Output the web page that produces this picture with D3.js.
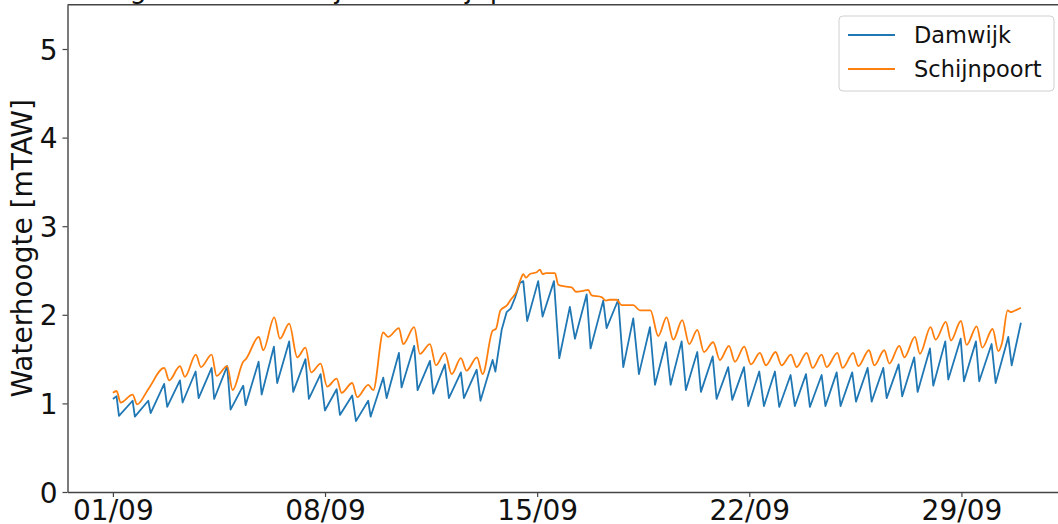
<!DOCTYPE html>
<html>
<head>
<meta charset="utf-8">
<script src="https://cdn.jsdelivr.net/npm/d3@7"></script>
<style>
  html, body { margin: 0; padding: 0; background: #fff; overflow: hidden; }
  svg { display: block; font-family: "DejaVu Sans", sans-serif; }
</style>
</head>
<body>
<svg id="chart" width="1058" height="524"></svg>
<script>
// Water levels (mTAW), September: hours since 01/09 00:00 and level at each turning point
const damwijkHours = [0, 2.9, 4.8, 15.6, 17.4, 28.0, 29.9, 40.6, 43.0, 53.1, 55.2, 65.5, 67.9, 78.2, 80.2,
  90.5, 93.2, 103.2, 105.1, 115.4, 117.8, 127.5, 130.1, 139.6, 142.8, 152.5, 155.2, 164.5, 167.9,
  177.2, 179.8, 189.5, 192.5, 202.2, 204.1, 214.1, 216.8, 226.5, 228.6, 238.6, 241.3, 251.1, 253.7,
  262.9, 266.1, 275.6, 278.0, 288.1, 291.1, 300.7, 302.9, 307.9, 311.8, 315.0, 318.4, 322.3, 325.0,
  328.1, 336.8, 340.3, 349.3, 353.5, 361.9, 365.9, 375.2, 378.3, 388.3, 391.0, 400.2, 404.2, 412.1,
  416.6, 425.3, 429.3, 438.0, 441.7, 450.4, 453.8, 462.8, 465.7, 475.0, 478.1, 487.3, 490.5, 499.8,
  503.2, 511.9, 515.6, 524.3, 527.7, 536.7, 540.1, 548.9, 552.0, 561.3, 564.3, 573.2, 576.3, 585.5,
  588.5, 597.7, 600.9, 610.1, 612.8, 622.3, 625.1, 634.6, 637.3, 647.1, 649.7, 659.2, 661.6, 671.4,
  674.0, 683.5, 686.1, 695.9, 699.1, 709.1, 711.8, 719.1];
const damwijkLevels = [1.05, 1.08, 0.86, 1.03, 0.85, 1.03, 0.89, 1.22, 0.96, 1.26, 1.01, 1.36, 1.06, 1.40, 1.05,
  1.42, 0.93, 1.20, 0.98, 1.47, 1.10, 1.64, 1.23, 1.70, 1.13, 1.50, 1.05, 1.33, 0.92,
  1.16, 0.87, 1.09, 0.80, 1.03, 0.85, 1.29, 1.06, 1.57, 1.18, 1.65, 1.15, 1.48, 1.11,
  1.44, 1.06, 1.35, 1.06, 1.38, 1.03, 1.49, 1.36, 1.83, 2.03, 2.07, 2.19, 2.36, 2.38,
  1.93, 2.38, 1.98, 2.38, 1.51, 2.09, 1.73, 2.23, 1.62, 2.16, 1.85, 2.17, 1.41, 1.96,
  1.33, 1.86, 1.21, 1.69, 1.21, 1.70, 1.15, 1.58, 1.13, 1.53, 1.05, 1.41, 1.04, 1.41,
  0.97, 1.36, 0.97, 1.36, 0.96, 1.32, 0.97, 1.33, 0.96, 1.32, 0.97, 1.35, 0.97, 1.35,
  1.02, 1.40, 1.02, 1.40, 1.06, 1.44, 1.08, 1.52, 1.13, 1.62, 1.20, 1.70, 1.27, 1.73,
  1.25, 1.70, 1.25, 1.67, 1.23, 1.75, 1.43, 1.91];

const schijnpoortHours = [0, 2.9, 6.1, 15.6, 19.2, 28.0, 40.6, 44.6, 53.1, 57.0, 65.7, 69.7, 78.2, 82.1,
  90.5, 94.8, 103.2, 105.3, 115.6, 119.0, 127.8, 132.3, 139.6, 146.0, 152.5, 157.0, 164.5, 169.7,
  177.2, 181.1, 189.5, 193.5, 202.2, 206.2, 214.1, 218.0, 226.5, 229.9, 238.6, 243.1, 251.1, 255.8,
  262.9, 268.3, 275.6, 280.1, 288.3, 292.8, 300.7, 303.3, 306.9, 312.3, 315.0, 319.2, 322.9, 325.0,
  327.1, 330.3, 335.6, 338.2, 340.3, 343.0, 350.1, 352.7, 358.0, 363.3, 366.7, 372.5, 376.4, 379.1,
  387.0, 390.5, 393.6, 398.9, 402.9, 412.1, 417.4, 425.7, 431.9, 438.5, 443.8, 450.9, 456.4, 462.8,
  468.1, 475.4, 480.7, 487.9, 492.6, 500.0, 505.3, 512.4, 517.2, 524.8, 529.6, 537.0, 541.5, 549.4,
  554.2, 561.3, 565.3, 573.7, 577.9, 586.3, 590.3, 598.8, 603.0, 610.9, 614.9, 622.8, 626.8, 635.2,
  639.1, 647.6, 651.6, 659.7, 663.7, 671.6, 676.1, 684.1, 688.5, 696.7, 701.2, 704.1, 708.6, 711.0,
  713.2, 719.1];
const schijnpoortLevels = [1.12, 1.14, 1.01, 1.10, 0.99, 1.16, 1.40, 1.26, 1.42, 1.30, 1.55, 1.41, 1.55, 1.31,
  1.42, 1.15, 1.47, 1.50, 1.75, 1.60, 1.97, 1.73, 1.90, 1.52, 1.63, 1.35, 1.45, 1.19,
  1.28, 1.12, 1.23, 1.07, 1.21, 1.15, 1.80, 1.75, 1.85, 1.67, 1.86, 1.56, 1.67, 1.43,
  1.57, 1.33, 1.51, 1.37, 1.52, 1.33, 1.82, 1.84, 2.05, 2.11, 2.17, 2.25, 2.40, 2.46,
  2.42, 2.46, 2.48, 2.51, 2.46, 2.47, 2.47, 2.34, 2.32, 2.31, 2.26, 2.27, 2.28, 2.22,
  2.20, 2.16, 2.17, 2.17, 2.11, 2.11, 2.05, 2.05, 1.76, 1.97, 1.72, 1.94, 1.67, 1.83,
  1.58, 1.69, 1.49, 1.65, 1.47, 1.64, 1.44, 1.57, 1.43, 1.58, 1.43, 1.55, 1.41, 1.57,
  1.40, 1.55, 1.41, 1.57, 1.40, 1.57, 1.42, 1.60, 1.43, 1.60, 1.45, 1.65, 1.52, 1.75,
  1.56, 1.86, 1.72, 1.92, 1.71, 1.93, 1.66, 1.87, 1.63, 1.84, 1.59, 1.68, 2.05, 2.03,
  2.04, 2.08];

const seriesNames = ["Damwijk", "Schijnpoort"];
const seriesColors = ["#1f77b4", "#ff7f0e"];
const xTickLabels = ["01/09", "08/09", "15/09", "22/09", "29/09"];
const yTickValues = [0, 1, 2, 3, 4, 5];
const yLabel = "Waterhoogte [mTAW]";
const titleText = "Waterhoogte aan Damwijk en Schijnpoort";

const t0 = new Date(2019, 8, 1, 0, 0);
const toDate = h => new Date(t0.getTime() + h * 3600e3);

const series = [
  { name: seriesNames[0], color: seriesColors[0], curve: d3.curveLinear,
    points: damwijkHours.map((h, i) => ({ t: toDate(h), v: damwijkLevels[i] })) },
  { name: seriesNames[1], color: seriesColors[1], curve: d3.curveMonotoneX,
    points: schijnpoortHours.map((h, i) => ({ t: toDate(h), v: schijnpoortLevels[i] })) }
];

// Plot area (right edge runs just past the page)
const plot = { left: 67.5, top: 4.7, right: 1066.3, bottom: 492 };

const svg = d3.select("#chart");

// x domain: data extent plus 5% each side
const allTimes = series.flatMap(s => s.points.map(p => p.t));
const [tMin, tMax] = d3.extent(allTimes);
const pad = (tMax - tMin) * 0.05;
const x = d3.scaleTime()
  .domain([new Date(+tMin - pad), new Date(+tMax + pad)])
  .range([plot.left, plot.right]);

const y = d3.scaleLinear().domain([0, 5.5]).range([plot.bottom, plot.top]);

// Title (sits mostly above the page edge)
svg.append("text")
  .attr("x", 0).attr("y", -2.5)
  .attr("font-size", 27).attr("fill", "#111")
  .text(titleText);

// Lines
svg.append("clipPath").attr("id", "plotclip")
  .append("rect").attr("x", plot.left).attr("y", plot.top)
  .attr("width", plot.right - plot.left).attr("height", plot.bottom - plot.top);

const lines = svg.append("g").attr("clip-path", "url(#plotclip)");
series.forEach(s => {
  lines.append("path")
    .datum(s.points)
    .attr("fill", "none")
    .attr("stroke", s.color)
    .attr("stroke-width", 1.8)
    .attr("stroke-linejoin", "round")
    .attr("d", d3.line().curve(s.curve).x(d => x(d.t)).y(d => y(d.v)));
});

// Axes
const parseTick = d3.timeParse("%d/%m/%Y");
const xTicks = xTickLabels.map(l => parseTick(l + "/2019"));

const xAxis = svg.append("g")
  .attr("transform", `translate(0,${plot.bottom})`)
  .call(d3.axisBottom(x).tickValues(xTicks).tickFormat(d3.timeFormat("%d/%m"))
    .tickSize(5).tickPadding(3).tickSizeOuter(0));

const yAxis = svg.append("g")
  .attr("transform", `translate(${plot.left},0)`)
  .call(d3.axisLeft(y).tickValues(yTickValues).tickFormat(d3.format("d"))
    .tickSize(5).tickPadding(5).tickSizeOuter(0));

[xAxis, yAxis].forEach(g => {
  g.select(".domain").attr("stroke", "#444").attr("stroke-width", 1.4);
  g.selectAll(".tick line").attr("stroke", "#444").attr("stroke-width", 1.2);
  g.selectAll(".tick text")
    .attr("font-family", "DejaVu Sans, sans-serif")
    .attr("font-size", 28).attr("fill", "#111");
});
xAxis.selectAll(".tick text").attr("dy", "0.71em");
yAxis.selectAll(".tick text").attr("dy", "0.36em");

// Top spine
svg.append("line")
  .attr("x1", plot.left).attr("x2", plot.right)
  .attr("y1", plot.top).attr("y2", plot.top)
  .attr("stroke", "#444").attr("stroke-width", 1.4);

// Y axis title
svg.append("text")
  .attr("transform", `translate(32,${(plot.top + plot.bottom) / 2}) rotate(-90)`)
  .attr("text-anchor", "middle")
  .attr("font-size", 28).attr("fill", "#111")
  .text(yLabel);

// Legend
const legend = svg.append("g").attr("transform", "translate(839,16)");
legend.append("rect")
  .attr("width", 215).attr("height", 75).attr("rx", 4)
  .attr("fill", "#fff").attr("fill-opacity", 0.8)
  .attr("stroke", "#d0d0d0").attr("stroke-width", 1);
series.forEach((s, i) => {
  const row = legend.append("g").attr("transform", `translate(0,${19 + i * 34})`);
  row.append("line").attr("x1", 9).attr("x2", 56)
    .attr("stroke", s.color).attr("stroke-width", 1.8);
  row.append("text").attr("x", 75).attr("y", 8)
    .attr("font-size", 22.5).attr("fill", "#111")
    .text(s.name);
});
</script>
</body>
</html>
